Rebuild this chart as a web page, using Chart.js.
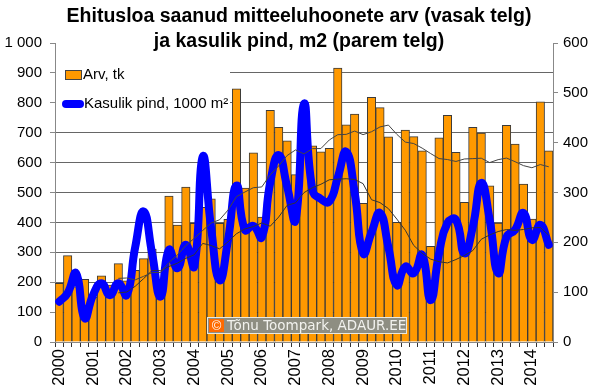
<!DOCTYPE html>
<html><head><meta charset="utf-8">
<script src="https://cdn.jsdelivr.net/npm/chart.js@4.4.1/dist/chart.umd.min.js"></script>
<style>html,body{margin:0;padding:0;background:#fff}</style>
</head><body>
<canvas id="c" width="600" height="392"></canvas>
<script>
// ---- data ----
const years = ['2000','2001','2002','2003','2004','2005','2006','2007','2008','2009','2010','2011','2012','2013','2014'];
const quarters = ['I','II','III','IV'];
// Ehitusloa saanud mitteeluhoonete arv, tk (left axis)
const arvTk = [
  196, 289, 185, 210,   150, 221, 190, 262,   205, 240, 279, 311,   150, 488, 391, 518,
  397, 450, 479, 397,   410, 847, 515, 633,   418, 775, 718, 673,   560, 740, 656, 636,
  648, 916, 726, 762,   464, 818, 784, 686,   400, 709, 687, 639,   320, 683, 758, 634,
  467, 718, 699, 522,   398, 725, 662, 528,   411, 803, 639
];
// Kasulik pind, 1000 m2 (right axis)
const kasulikPind = [
   81,  98, 138,  48,    94, 118,  94, 118,    94, 190, 262, 178,    91, 185, 148, 195,
  152, 372, 228, 124,   205, 314, 225, 233,   210, 320, 375, 312,   245, 478, 305, 287,
  282, 330, 382, 300,   178, 220, 259, 190,   114, 151, 138, 175,    84, 178, 239, 245,
  178, 231, 319, 245,   138, 211, 225, 259,   205, 235, 195
];
const leftTicks = [0,100,200,300,400,500,600,700,800,900,1000];
const rightTicks = [0,100,200,300,400,500,600];
const titleLines = ['Ehitusloa saanud mitteeluhoonete arv (vasak telg)', 'ja kasulik pind, m2 (parem telg)'];
const legendLabels = ['Arv, tk', 'Kasulik pind, 1000 m\u00B2'];
const copyrightText = 'T\u00F5nu Toompark, ADAUR.EE';

// categories (quarters)
const categories = [];
years.forEach(y => quarters.forEach(q => { if (categories.length < arvTk.length) categories.push(y + ' ' + q); }));

// 8-quarter moving average trendlines (as in the original chart)
function movingAverage(vals, n) {
  return vals.map((v, i) => {
    if (i < n - 1) return null;
    let s = 0; for (let k = i - n + 1; k <= i; k++) s += vals[k];
    return s / n;
  });
}

const FONT = "'Liberation Sans', Arial, sans-serif";

const decor = {
  id: 'decor',
  beforeDatasetsDraw(chart) {
    const ctx = chart.ctx, a = chart.chartArea;
    ctx.save();
    ctx.fillStyle = '#ffffff';
    ctx.fillRect(a.left + 1, 56, 229 - a.left, 62);
    ctx.restore();
  },
  afterDraw(chart) {
    const ctx = chart.ctx;
    ctx.save();
    // title
    ctx.fillStyle = '#000';
    ctx.textAlign = 'center';
    ctx.textBaseline = 'middle';
    ctx.font = 'bold 19.5px ' + FONT;
    ctx.fillText(titleLines[0], 299, 17);
    ctx.fillText(titleLines[1], 299, 42);
    // legend
    ctx.textAlign = 'left';
    ctx.font = '15px ' + FONT;
    ctx.fillStyle = '#ff9900';
    ctx.fillRect(65.5, 70.5, 16, 9);
    ctx.strokeStyle = '#444'; ctx.lineWidth = 1;
    ctx.strokeRect(65.5, 70.5, 16, 9);
    ctx.fillStyle = '#000';
    ctx.fillText(legendLabels[0], 83, 75);
    ctx.strokeStyle = '#0000ff'; ctx.lineWidth = 8; ctx.lineCap = 'round';
    ctx.beginPath(); ctx.moveTo(66, 104); ctx.lineTo(80, 104); ctx.stroke();
    ctx.fillText(legendLabels[1], 84, 104);
    // copyright box
    ctx.lineCap = 'butt';
    ctx.fillStyle = '#8e8e82';
    ctx.fillRect(207, 317, 200, 17);
    ctx.strokeStyle = '#e8e8e0'; ctx.lineWidth = 1;
    ctx.strokeRect(207.5, 317.5, 199, 16);
    ctx.fillStyle = '#ff6a00';
    ctx.fillRect(209, 319, 15, 13);
    ctx.fillStyle = '#ffffff';
    ctx.font = '13px ' + FONT;
    ctx.textAlign = 'center';
    ctx.fillText('\u00A9', 216.5, 326);
    ctx.textAlign = 'left';
    ctx.fillStyle = '#f2f2ee';
    ctx.font = "13.5px 'DejaVu Sans', sans-serif";
    ctx.fillText(copyrightText, 227, 326);
    ctx.restore();
  }
};

new Chart(document.getElementById('c'), {
  type: 'bar',
  data: {
    labels: categories,
    datasets: [
      { type: 'line', label: 'MA arv', data: movingAverage(arvTk, 8), yAxisID: 'y',
        borderColor: '#444', borderWidth: 1, pointRadius: 0, tension: 0, order: 0, spanGaps: false },
      { type: 'line', label: 'MA pind', data: movingAverage(kasulikPind, 8), yAxisID: 'y2',
        borderColor: '#333', borderWidth: 1, pointRadius: 0, tension: 0, order: 0, spanGaps: false },
      { type: 'line', label: legendLabels[1], data: kasulikPind, yAxisID: 'y2',
        borderColor: '#0000ff', borderWidth: 8, pointRadius: 0, tension: 0.5,
        borderCapStyle: 'round', borderJoinStyle: 'round', order: 1 },
      { type: 'bar', label: legendLabels[0], data: arvTk, yAxisID: 'y',
        backgroundColor: '#ff9900', borderColor: '#3a3a3a', borderWidth: 1,
        barPercentage: 1, categoryPercentage: 1, order: 3 }
    ]
  },
  options: {
    responsive: false, animation: false, devicePixelRatio: 1,
    layout: { padding: { top: 43, left: 0, right: 0, bottom: 0 } },
    plugins: { legend: { display: false }, tooltip: { enabled: false }, title: { display: false } },
    scales: {
      x: {
        type: 'category', offset: true,
        grid: { offset: true, drawOnChartArea: false, drawTicks: true, tickLength: 5, color: '#333' },
        border: { color: '#888', width: 1 },
        ticks: { autoSkip: false, minRotation: 90, maxRotation: 90, padding: 2, color: '#000',
          font: { family: FONT, size: 16.5 },
          callback: (v, i) => (i % 4 === 0 ? years[i / 4] : '') },
        afterFit: s => { s.height = 50; }
      },
      y: {
        position: 'left', min: 0, max: 1000,
        afterBuildTicks: s => { s.ticks = leftTicks.map(v => ({ value: v })); },
        grid: { color: c => (c.tick && (c.tick.value === 0 || c.tick.value === 1000)) ? 'rgba(0,0,0,0)' : '#666',
                tickColor: '#888', tickLength: 5, drawTicks: true, lineWidth: 1 },
        border: { color: '#888', width: 1 },
        ticks: { padding: 8, color: '#000', font: { family: FONT, size: 15 },
          callback: v => String(v).replace(/\B(?=(\d{3})+(?!\d))/g, ' ') },
        afterFit: s => { s.width = 55; }
      },
      y2: {
        position: 'right', min: 0, max: 600,
        afterBuildTicks: s => { s.ticks = rightTicks.map(v => ({ value: v })); },
        grid: { drawOnChartArea: false, tickColor: '#888', tickLength: 5, drawTicks: true },
        border: { color: '#888', width: 1 },
        ticks: { padding: 5, color: '#000', font: { family: FONT, size: 15 } },
        afterFit: s => { s.width = 47; }
      }
    }
  },
  plugins: [decor]
});
</script>
</body></html>
